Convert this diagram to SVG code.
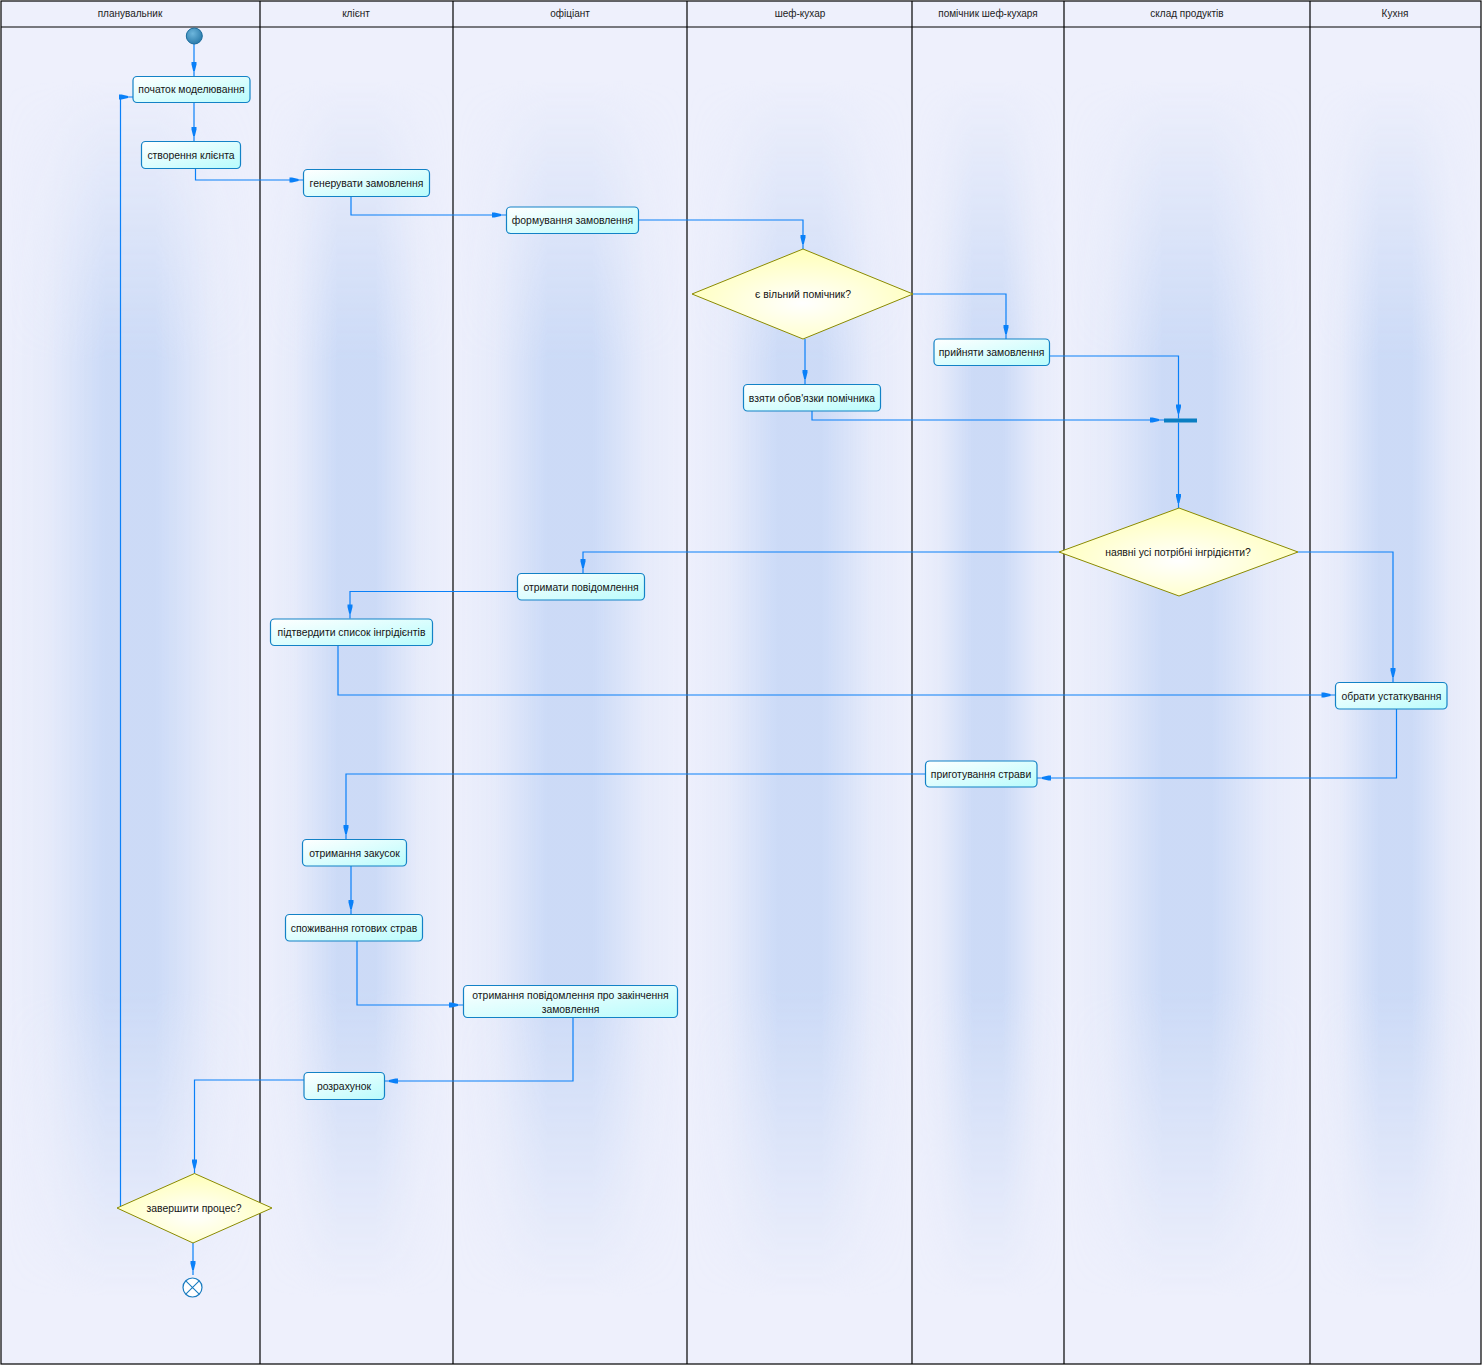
<svg xmlns="http://www.w3.org/2000/svg" width="1482" height="1365" viewBox="0 0 1482 1365">
<style>
.lane{fill:#EEF0FC}
.glow{fill:url(#hg)}
.div{stroke:#000;stroke-width:1.2;fill:none}
.hdr{font-family:"Liberation Sans",Arial,sans-serif;font-size:10px;fill:#222;text-anchor:middle}
.act rect{fill:url(#ng);stroke:#1382C6;stroke-width:1.2}
.act text,.dec text{font-family:"Liberation Sans",Arial,sans-serif;font-size:10.4px;fill:#141414;text-anchor:middle;dominant-baseline:central}
.dec polygon{fill:url(#dg);stroke:#8A8A00;stroke-width:1}
.con path{fill:none;stroke:#0A80F8;stroke-width:1.2;marker-end:url(#arr)}
</style>
<defs>
<linearGradient id="hg" x1="0" y1="0" x2="1" y2="0">
<stop offset="0" stop-color="#C8D8F6" stop-opacity="0"/>
<stop offset="0.18" stop-color="#C8D8F6" stop-opacity="0.2"/>
<stop offset="0.4" stop-color="#C8D8F6" stop-opacity="0.9"/>
<stop offset="0.6" stop-color="#C8D8F6" stop-opacity="0.9"/>
<stop offset="0.82" stop-color="#C8D8F6" stop-opacity="0.2"/>
<stop offset="1" stop-color="#C8D8F6" stop-opacity="0"/>
</linearGradient>
<linearGradient id="vg" x1="0" y1="0" x2="0" y2="1">
<stop offset="0" stop-color="#000"/>
<stop offset="0.04" stop-color="#000"/>
<stop offset="0.25" stop-color="#fff"/>
<stop offset="0.72" stop-color="#fff"/>
<stop offset="0.95" stop-color="#000"/>
<stop offset="1" stop-color="#000"/>
</linearGradient>
<mask id="vm" maskContentUnits="objectBoundingBox">
<rect x="0" y="0" width="1" height="1" fill="url(#vg)"/>
</mask>
<linearGradient id="ng" x1="0" y1="0" x2="1" y2="1">
<stop offset="0" stop-color="#FFFFFF"/>
<stop offset="1" stop-color="#B8FCFC"/>
</linearGradient>
<radialGradient id="dg" cx="0.5" cy="0.6" r="0.6">
<stop offset="0" stop-color="#FFFFFF"/>
<stop offset="1" stop-color="#FFFFB8"/>
</radialGradient>
<radialGradient id="sg" cx="0.4" cy="0.35" r="0.7">
<stop offset="0" stop-color="#6DB6DC"/>
<stop offset="1" stop-color="#2878A8"/>
</radialGradient>
<marker id="arr" markerUnits="userSpaceOnUse" markerWidth="16" markerHeight="8" viewBox="-15 -4 16 8" refX="0" refY="0" orient="auto">
<path d="M-14,-2.5 H-11.5 L-5,-0.9 V0.9 L-11.5,2.5 H-14 Z" fill="#0A80F8"/>
</marker>
</defs>

<g id="lanes">
<rect class="lane" x="1" y="1" width="1480" height="1363"/>
<g mask="url(#vm)">
<rect class="glow" x="1" y="27" width="259" height="1337"/>
<rect class="glow" x="260" y="27" width="193" height="1337"/>
<rect class="glow" x="453" y="27" width="234" height="1337"/>
<rect class="glow" x="687" y="27" width="225" height="1337"/>
<rect class="glow" x="912" y="27" width="152" height="1337"/>
<rect class="glow" x="1064" y="27" width="246" height="1337"/>
<rect class="glow" x="1310" y="27" width="171" height="1337"/>
</g>
<rect class="div" x="1" y="1" width="1480" height="1363"/>
<line class="div" x1="1" y1="27" x2="1481" y2="27"/>
<line class="div" x1="260" y1="1" x2="260" y2="1364"/>
<line class="div" x1="453" y1="1" x2="453" y2="1364"/>
<line class="div" x1="687" y1="1" x2="687" y2="1364"/>
<line class="div" x1="912" y1="1" x2="912" y2="1364"/>
<line class="div" x1="1064" y1="1" x2="1064" y2="1364"/>
<line class="div" x1="1310" y1="1" x2="1310" y2="1364"/>
<text class="hdr" x="130" y="17">планувальник</text>
<text class="hdr" x="356" y="17">клієнт</text>
<text class="hdr" x="570" y="17">офіціант</text>
<text class="hdr" x="800" y="17">шеф-кухар</text>
<text class="hdr" x="988" y="17">помічник шеф-кухаря</text>
<text class="hdr" x="1187" y="17">склад продуктів</text>
<text class="hdr" x="1395" y="17">Кухня</text>
</g>

<g id="connectors" class="con">
<path d="M194,44 V76"/>
<path d="M194,102 V141"/>
<path d="M195.5,168 V180 H303.5"/>
<path d="M351,196 V215 H506"/>
<path d="M638,220 H803 V249"/>
<path d="M913,294 H1006 V339"/>
<path d="M805,339 V384"/>
<path d="M812,411 V420 H1164"/>
<path d="M1049,356 H1178.5 V418.5"/>
<path d="M1178.5,422.5 V508"/>
<path d="M1059,552 H583 V573"/>
<path d="M517,591.5 H350 V618.5"/>
<path d="M338,645.5 V695 H1335.5"/>
<path d="M1298,552 H1393 V682"/>
<path d="M1396.5,709 V778 H1037"/>
<path d="M925.5,774 H346 V839"/>
<path d="M351,866 V914"/>
<path d="M357,941 V1005 H463"/>
<path d="M573,1017 V1081 H384"/>
<path d="M304,1080 H194.5 V1173.5"/>
<path d="M193,1243 V1275"/>
<path d="M120.5,1206 V97 H133"/>
</g>

<g id="start"><circle cx="194.3" cy="36" r="8" fill="url(#sg)" stroke="#1A6C9C" stroke-width="1"/></g>

<g id="n1" class="act"><rect x="133" y="76.5" width="117" height="26" rx="4"/><text x="191.5" y="89.5">початок моделювання</text></g>
<g id="n2" class="act"><rect x="141.5" y="141.5" width="99" height="27" rx="4"/><text x="191" y="155">створення клієнта</text></g>
<g id="n3" class="act"><rect x="303.5" y="169.5" width="126" height="27" rx="4"/><text x="366.5" y="183">генерувати замовлення</text></g>
<g id="n4" class="act"><rect x="506.5" y="207" width="132" height="26.5" rx="4"/><text x="572.5" y="220.5">формування замовлення</text></g>
<g id="d1" class="dec"><polygon points="803,249 913,294 803,339 692,294"/><text x="803" y="294.5">є вільний помічник?</text></g>
<g id="n5" class="act"><rect x="934" y="339" width="115.5" height="26.5" rx="4"/><text x="991.5" y="352.5">прийняти замовлення</text></g>
<g id="n6" class="act"><rect x="743.5" y="384.5" width="137" height="26.5" rx="4"/><text x="812" y="398">взяти обов'язки помічника</text></g>
<g id="fork"><rect x="1164" y="418.5" width="33" height="4" fill="#0A7EC2"/></g>
<g id="d2" class="dec"><polygon points="1179,508 1298,552 1179,596 1059,552"/><text x="1178" y="552.5">наявні усі потрібні інгрідієнти?</text></g>
<g id="n7" class="act"><rect x="517.5" y="573.5" width="127" height="26.5" rx="4"/><text x="581" y="587">отримати повідомлення</text></g>
<g id="n8" class="act"><rect x="270.5" y="619" width="162" height="26.5" rx="4"/><text x="351.5" y="632.5">підтвердити список інгрідієнтів</text></g>
<g id="n9" class="act"><rect x="1335.5" y="682.5" width="111.5" height="26.5" rx="4"/><text x="1391.5" y="696">обрати устаткування</text></g>
<g id="n10" class="act"><rect x="925.5" y="761" width="111.5" height="26" rx="4"/><text x="981" y="774.5">приготування страви</text></g>
<g id="n11" class="act"><rect x="302.5" y="839.5" width="104" height="26.5" rx="4"/><text x="354.5" y="853">отримання закусок</text></g>
<g id="n12" class="act"><rect x="285.5" y="914.5" width="137" height="26.5" rx="4"/><text x="354" y="928">споживання готових страв</text></g>
<g id="n13" class="act"><rect x="463.5" y="985.5" width="214" height="32" rx="4"/><text x="570.5" y="995">отримання повідомлення про закінчення</text><text x="570.5" y="1009">замовлення</text></g>
<g id="n14" class="act"><rect x="304" y="1072.5" width="80.5" height="27" rx="4"/><text x="344" y="1086">розрахунок</text></g>
<g id="d3" class="dec"><polygon points="194.5,1173.5 272,1208 193,1243 117,1208"/><text x="194" y="1208.5">завершити процес?</text></g>
<g id="end"><circle cx="192.5" cy="1287.5" r="9.5" fill="#FFFFFF" stroke="#1A7CC0" stroke-width="1.2"/><path d="M185.8,1280.8 L199.2,1294.2 M199.2,1280.8 L185.8,1294.2" stroke="#1A7CC0" stroke-width="1.1"/></g>
</svg>
